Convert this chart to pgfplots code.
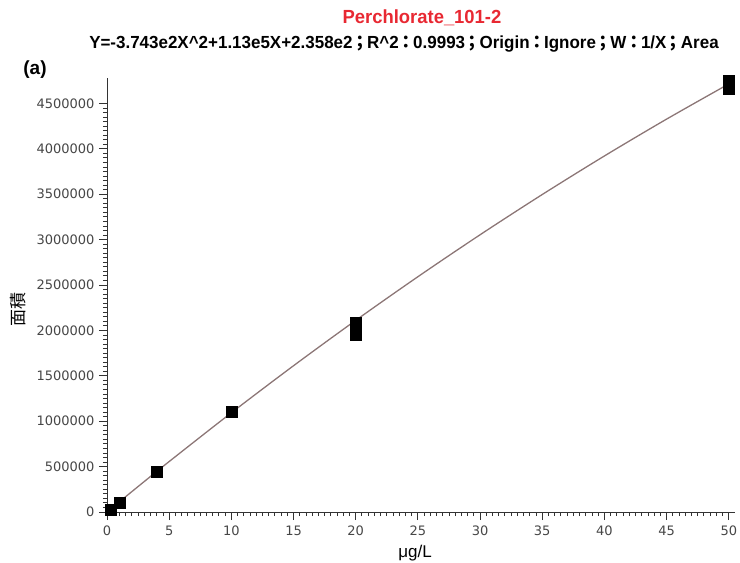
\documentclass[border=0pt]{standalone}
\usepackage{pgfplots}
\pgfplotsset{compat=1.18}
\usepackage{fontspec}
\setmainfont{Liberation Sans}
\newfontfamily\cond[FakeStretch=0.97]{Liberation Sans}
\newfontfamily\tickfont{DejaVu Sans}
\newfontfamily\cjk{Noto Sans CJK JP}
\definecolor{titlered}{RGB}{232,40,50}
\definecolor{fitline}{RGB}{140,118,118}
\definecolor{ticklab}{RGB}{70,70,70}
\newcommand{\pu}[1]{{\cjk\hspace{-1.5pt}#1\hspace{-1.5pt}}}
\begin{document}
\begin{tikzpicture}
\path[use as bounding box] (-107pt,-51pt) rectangle (633pt,512pt);
\begin{axis}[
  at={(0,0)}, anchor=south west,
  scale only axis, width=628pt, height=434pt,
  xmin=0, xmax=50.5, ymin=0, ymax=4780000,
  axis lines*=left,
  axis line style={black!80, line width=0.9pt},
  xtick={0,5,...,50}, ytick={0,500000,...,4500000},
  minor x tick num=9, minor y tick num=9,
  tick align=outside,
  major tick length=8pt, minor tick length=4pt,
  tick style={black!80, line width=0.9pt},
  scaled y ticks=false,
  /pgf/number format/assume math mode=true,
  yticklabel style={/pgf/number format/fixed, /pgf/number format/1000 sep={}, font=\tickfont\fontsize{13}{13}\selectfont, text=ticklab, xshift=-1pt},
  xticklabel style={font=\tickfont\fontsize{13}{13}\selectfont, text=ticklab, yshift=-2pt},
  clip=false,
]
\addplot[fitline, line width=1.3pt, smooth] coordinates {
(0,236) (2.5,280397) (5,555878) (10,1092806) (15,1611018) (20,2110516)
(25,2591298) (30,3053366) (35,3496718) (40,3921356) (45,4327278) (50,4714486)};
\addplot[only marks, mark=square*, mark size=5.5pt, black] coordinates {
(0.3,30000) (1,100000) (4,440000) (10,1110000) (20,2080000) (20,1950000)
(50,4750000) (50,4700000) (50,4660000)};
\end{axis}
\node[text=titlered, font=\cond\bfseries\fontsize{19}{19}\selectfont] at (315pt,494pt) {Perchlorate\_101-2};
\node[font=\cond\bfseries\fontsize{17.5}{17.5}\selectfont, inner sep=0pt] at (297pt,468pt) {Y=-3.743e2X\^{}2+1.13e5X+2.358e2\pu{；}R\^{}2\pu{：}0.9993\pu{；}Origin\pu{：}Ignore\pu{；}W\pu{：}1/X\pu{；}Area};
\node[font=\bfseries\fontsize{19}{19}\selectfont] at (-72pt,442pt) {(a)};
\node[rotate=90, font=\cjk\fontsize{17}{17}\selectfont] at (-89pt,202pt) {面積};
\node[font=\fontsize{17}{17}\selectfont] at (308pt,-41pt) {μg/L};
\end{tikzpicture}
\end{document}
